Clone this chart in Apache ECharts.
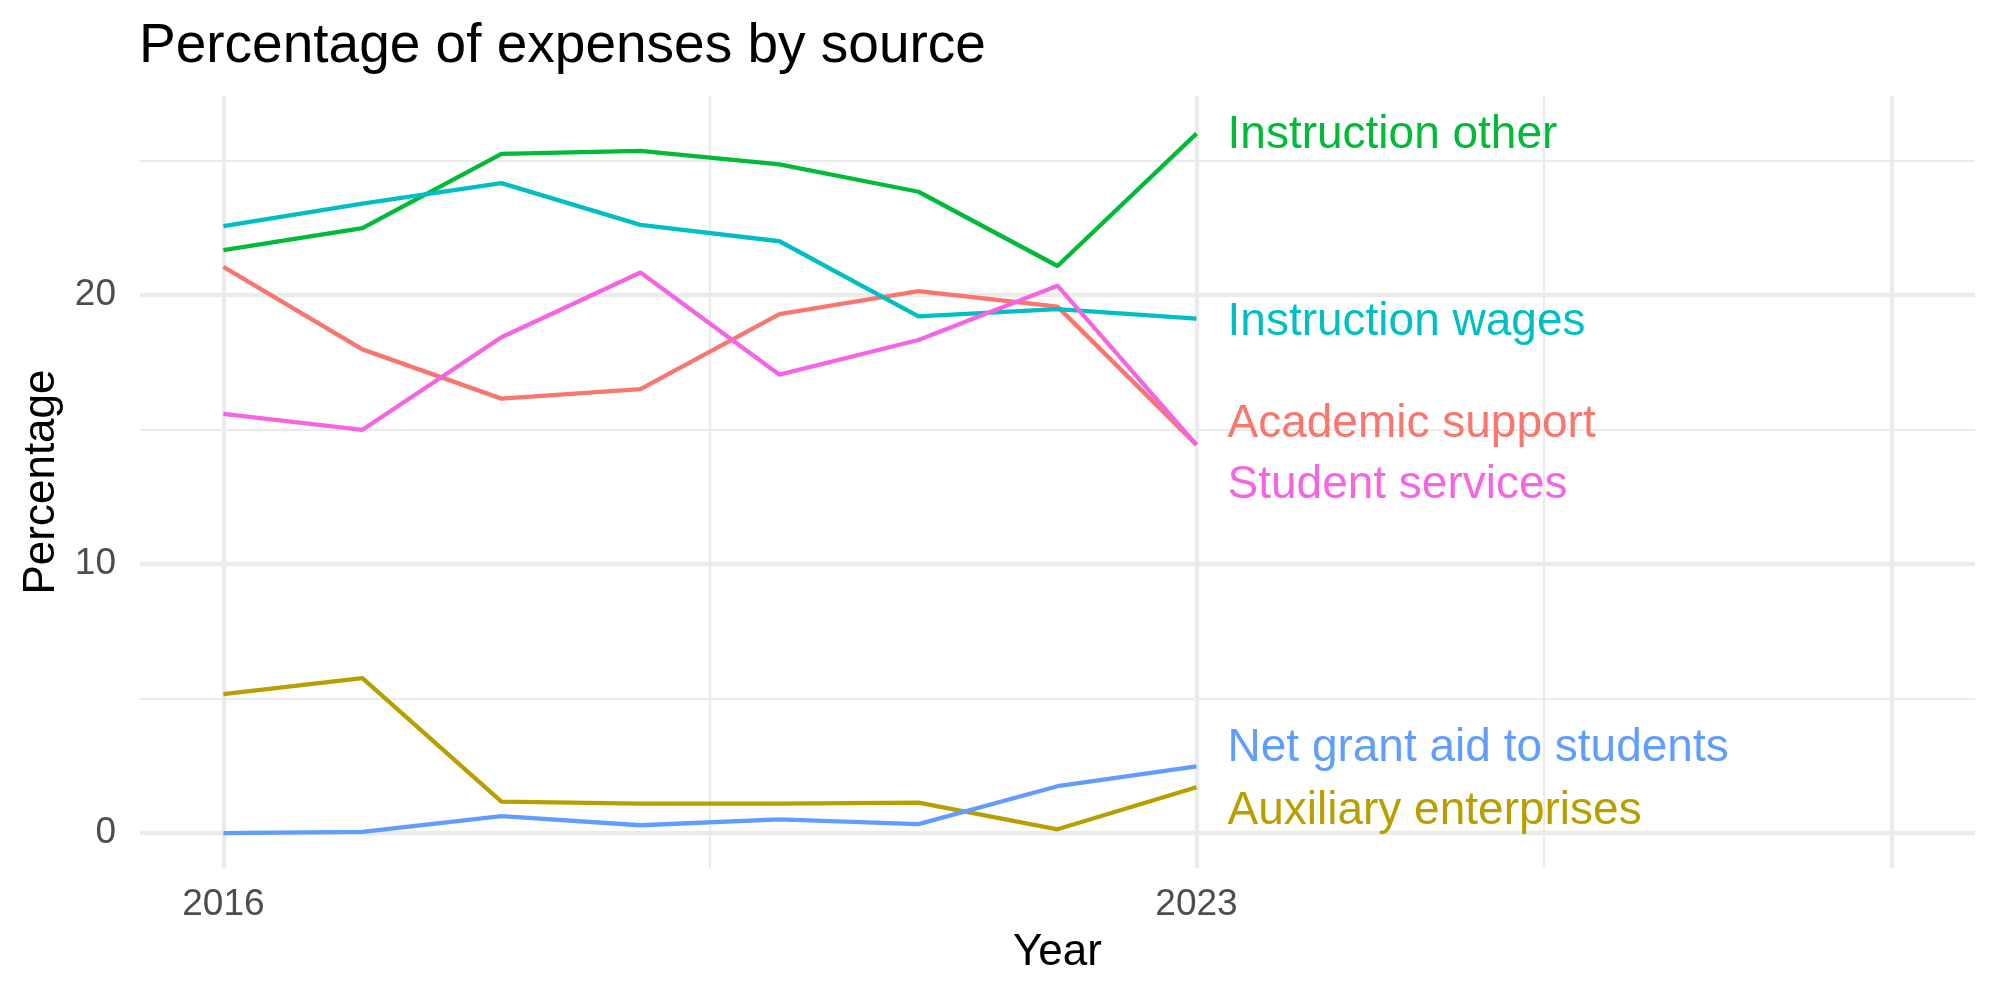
<!DOCTYPE html>
<html>
<head>
<meta charset="utf-8">
<script src="https://cdn.jsdelivr.net/npm/echarts@6/dist/echarts.min.js"></script>
<style>
html,body{margin:0;padding:0;background:#fff;}
#chart{width:2000px;height:1000px;}
</style>
</head>
<body>
<div id="chart"></div>
<script>
const years = [2016, 2017, 2018, 2019, 2020, 2021, 2022, 2023];
const academicSupport      = [21.05, 17.98, 16.15, 16.50, 19.29, 20.15, 19.57, 14.43];
const auxiliaryEnterprises = [5.16, 5.76, 1.17, 1.09, 1.09, 1.13, 0.14, 1.70];
const instructionOther     = [21.67, 22.49, 25.25, 25.36, 24.86, 23.84, 21.08, 26.00];
const instructionWages     = [22.56, 23.40, 24.16, 22.61, 22.00, 19.21, 19.48, 19.12];
const netGrantAid          = [0.00, 0.04, 0.63, 0.29, 0.51, 0.33, 1.74, 2.48];
const studentServices      = [15.58, 14.99, 18.43, 20.84, 17.04, 18.33, 20.35, 14.43];

const xTickLabels = [2016, 2023];
const yTickLabels = [0, 10, 20];
const xMajorGrid = [2016, 2023, 2028];
const xMinorGrid = [2019.5, 2025.5];
const yMajorGrid = [0, 10, 20];
const yMinorGrid = [5, 15, 25];

const seriesDefs = [
  {name: 'Academic support', values: academicSupport, color: '#F8766D', dy: -21},
  {name: 'Auxiliary enterprises', values: auxiliaryEnterprises, color: '#B79F00', dy: 24},
  {name: 'Instruction other', values: instructionOther, color: '#00BA38', dy: 2},
  {name: 'Instruction wages', values: instructionWages, color: '#00BFC4', dy: 4},
  {name: 'Net grant aid to students', values: netGrantAid, color: '#619CFF', dy: -18},
  {name: 'Student services', values: studentServices, color: '#F564E3', dy: 40}
];

const FONT = 'Liberation Sans, Arial, Helvetica, sans-serif';
const GRID = '#EBEBEB';

const gridLines = [];
xMajorGrid.forEach(v => gridLines.push({xAxis: v, lineStyle: {color: GRID, width: 4.3, type: 'solid'}}));
xMinorGrid.forEach(v => gridLines.push({xAxis: v, lineStyle: {color: GRID, width: 2.2, type: 'solid'}}));
yMajorGrid.forEach(v => gridLines.push({yAxis: v, lineStyle: {color: GRID, width: 4.3, type: 'solid'}}));
yMinorGrid.forEach(v => gridLines.push({yAxis: v, lineStyle: {color: GRID, width: 2.2, type: 'solid'}}));

const series = [{
  type: 'line',
  name: '__grid',
  data: [],
  z: 0,
  silent: true,
  markLine: {
    z: 0,
    silent: true,
    symbol: ['none', 'none'],
    label: {show: false},
    animation: false,
    emphasis: {disabled: true},
    data: gridLines
  }
}];

seriesDefs.forEach(s => {
  series.push({
    type: 'line',
    name: s.name,
    data: years.map((y, i) => [y, s.values[i]]),
    showSymbol: false,
    symbol: 'none',
    z: 3,
    lineStyle: {color: s.color, width: 4.3},
    itemStyle: {color: s.color},
    emphasis: {disabled: true},
    endLabel: {
      show: true,
      formatter: '{a}',
      color: s.color,
      fontFamily: FONT,
      fontSize: 46,
      distance: 31,
      offset: [0, s.dy]
    }
  });
});

const chart = echarts.init(document.getElementById('chart'), null, {renderer: 'canvas'});
chart.setOption({
  animation: false,
  backgroundColor: '#ffffff',
  title: {
    text: 'Percentage of expenses by source',
    left: 134,
    top: 14,
    textStyle: {fontFamily: FONT, fontSize: 55, fontWeight: 'normal', color: '#000'}
  },
  grid: {left: 140, right: 25, top: 96, bottom: 132},
  xAxis: {
    type: 'value',
    min: 2015.4,
    max: 2028.6,
    name: 'Year',
    nameLocation: 'middle',
    nameGap: 63,
    nameTextStyle: {fontFamily: FONT, fontSize: 44, color: '#000'},
    axisLine: {show: false},
    axisTick: {show: false},
    splitLine: {show: false},
    axisLabel: {
      customValues: xTickLabels,
      formatter: v => String(v),
      fontFamily: FONT, fontSize: 37, color: '#4D4D4D', margin: 18
    }
  },
  yAxis: {
    type: 'value',
    min: -1.3,
    max: 27.4,
    name: 'Percentage',
    nameLocation: 'middle',
    nameGap: 73,
    nameRotate: 90,
    nameTextStyle: {fontFamily: FONT, fontSize: 44, color: '#000'},
    axisLine: {show: false},
    axisTick: {show: false},
    splitLine: {show: false},
    axisLabel: {
      customValues: yTickLabels,
      formatter: v => String(v),
      fontFamily: FONT, fontSize: 37, color: '#4D4D4D', margin: 24
    }
  },
  series: series
});
</script>
</body>
</html>
